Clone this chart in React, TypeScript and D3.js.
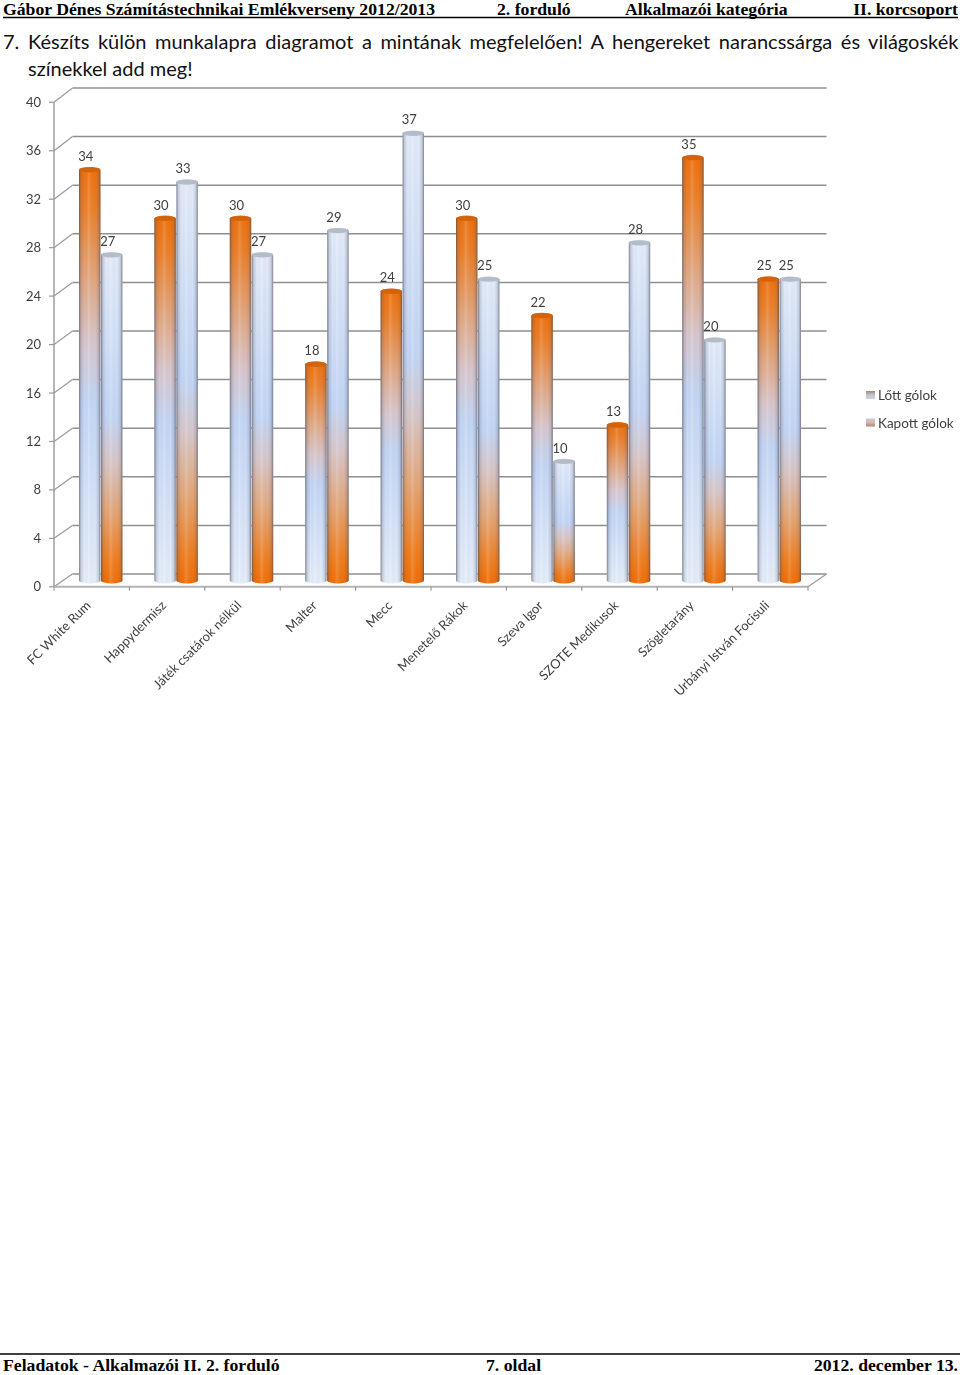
import React from "react";
import * as d3 from "d3";

const categories = ["FC White Rum","Happydermisz","Játék csatárok nélkül","Malter","Mecc","Menetelő Rákok","Szeva Igor","SZOTE Medikusok","Szögletarány","Urbányi István Focisuli"];
const lott = [34,30,30,18,24,30,22,13,35,25];
const kapott = [27,33,27,29,37,25,10,28,20,25];
const seriesNames = ["Lőtt gólok","Kapott gólok"];
const yTicks = [0,4,8,12,16,20,24,28,32,36,40];

const yFront = d3.scaleLinear().domain([0,40]).range([586.8,102.3]);
const yBack = d3.scaleLinear().domain([0,40]).range([574,88]);
const yBar = d3.scaleLinear().domain([0,40]).range([583,97]);
const xFront = d3.scaleBand<string>().domain(categories).range([54,808]);
const xBar = d3.scaleBand<string>().domain(categories).range([63,817]);
const xSeries = d3.scaleBand<string>().domain(seriesNames).range([-22,22]);

const ink = "#404040";
const chartFont = "Lato, 'Open Sans', sans-serif";

function cyl(x:number,w:number,top:number,base:number){
  const rx=w/2, ry=3;
  return `M${x},${top} L${x},${base} A${rx},${ry} 0 0 0 ${x+w},${base} L${x+w},${top} A${rx},${ry} 0 0 0 ${x},${top} Z`;
}

function Bars({values,name,grad,cap}:{values:number[],name:string,grad:string,cap:string}){
  const w = xSeries.bandwidth();
  return <g>{categories.map((c,i)=>{
    const x = xBar(c)! + xBar.bandwidth()/2 + xSeries(name)!;
    const top = yBar(values[i]);
    const base = yBar(0)-2.5;
    const d = cyl(x+0.3,w-0.6,top,base);
    return <g key={c}>
      <path d={d} fill={`url(#${grad})`}/>
      <path d={d} fill="url(#shade)"/>
      <ellipse cx={x+w/2} cy={top} rx={w/2-0.3} ry={2.6} fill={cap}/>
      <text x={x+w/2-4} y={top-9} textAnchor="middle" fontSize={13} fill={ink} fontFamily={chartFont}>{values[i]}</text>
    </g>;
  })}</g>;
}

export default function App(){
  const [x0,x1] = xFront.range();
  const dx = 18.5;
  return <svg width={960} height={1375} viewBox="0 0 960 1375" style={{position:"absolute",left:0,top:0,display:"block",background:"#fff"}}>
    <defs>
      <linearGradient id="orangeV" x1="0" y1="0" x2="0" y2="1">
        <stop offset="0" stopColor="#f06e08"/>
        <stop offset="0.1" stopColor="#ec7e26"/>
        <stop offset="0.27" stopColor="#e2a67e"/>
        <stop offset="0.42" stopColor="#d8c6cc"/>
        <stop offset="0.56" stopColor="#c2d6f6"/>
        <stop offset="1" stopColor="#e6eefb"/>
      </linearGradient>
      <linearGradient id="blueV" x1="0" y1="0" x2="0" y2="1">
        <stop offset="0" stopColor="#e4ecfa"/>
        <stop offset="0.5" stopColor="#c2d6f6"/>
        <stop offset="0.63" stopColor="#d8c6c8"/>
        <stop offset="0.78" stopColor="#e4a676"/>
        <stop offset="0.93" stopColor="#f07c1c"/>
        <stop offset="1" stopColor="#f26c02"/>
      </linearGradient>
      <linearGradient id="shade" x1="0" y1="0" x2="1" y2="0">
        <stop offset="0" stopColor="#3a3a48" stopOpacity="0.6"/>
        <stop offset="0.1" stopColor="#5a5a68" stopOpacity="0.2"/>
        <stop offset="0.25" stopColor="#5a5a68" stopOpacity="0"/>
        <stop offset="0.45" stopColor="#ffffff" stopOpacity="0.16"/>
        <stop offset="0.75" stopColor="#5a5a68" stopOpacity="0"/>
        <stop offset="0.9" stopColor="#5a5a68" stopOpacity="0.2"/>
        <stop offset="1" stopColor="#3a3a48" stopOpacity="0.6"/>
      </linearGradient>
      <linearGradient id="legA" x1="0" y1="0" x2="0" y2="1">
        <stop offset="0" stopColor="#a08a78"/><stop offset="0.5" stopColor="#c8c4c4"/><stop offset="1" stopColor="#c4d4ee"/>
      </linearGradient>
      <linearGradient id="legB" x1="0" y1="0" x2="0" y2="1">
        <stop offset="0" stopColor="#c8ccd8"/><stop offset="0.5" stopColor="#d4b8a8"/><stop offset="1" stopColor="#b08870"/>
      </linearGradient>
      <filter id="soft" x="-5%" y="-5%" width="110%" height="110%"><feGaussianBlur stdDeviation="0.5"/></filter>
    </defs>

    <g fontFamily="'Liberation Serif', serif" fontWeight="bold" fontSize={17.7} fill="#000">
      <text x={3} y={15}>Gábor Dénes Számítástechnikai Emlékverseny 2012/2013</text>
      <text x={497} y={15}>2. forduló</text>
      <text x={625} y={15}>Alkalmazói kategória</text>
      <text x={958} y={15} textAnchor="end">II. korcsoport</text>
    </g>
    <line x1={3} x2={958} y1={17.5} y2={17.5} stroke="#000" strokeWidth={1.5}/>

    <g fontFamily={chartFont} fontSize={20} fill="#111">
      <text x={3} y={49}>7.</text>
      <text x={28} y={49} wordSpacing={3.4}>Készíts külön munkalapra diagramot a mintának megfelelően! A hengereket narancssárga és világoskék</text>
      <text x={28} y={76}>színekkel add meg!</text>
    </g>

    <g filter="url(#soft)">
      {yTicks.map(t=><g key={t}>
        <line x1={x0+dx} x2={x1+dx} y1={yBack(t)} y2={yBack(t)} stroke="#8f8f8f" strokeWidth={1.5}/>
        <line x1={x0} x2={x0+dx} y1={yFront(t)} y2={yBack(t)} stroke="#999" strokeWidth={1.2}/>
        <line x1={x0-5} x2={x0} y1={yFront(t)} y2={yFront(t)} stroke="#999" strokeWidth={1.2}/>
        <text x={41} y={yFront(t)+4.5} textAnchor="end" fontSize={13} fill={ink} fontFamily={chartFont}>{t}</text>
      </g>)}
      <line x1={x0} x2={x0} y1={yFront(40)} y2={yFront(0)} stroke="#999" strokeWidth={1.4}/>
      <line x1={x0} x2={x1} y1={yFront(0)} y2={yFront(0)} stroke="#b4b4b4" strokeWidth={2}/>
      <line x1={x1} x2={x1+dx} y1={yFront(0)} y2={yBack(0)} stroke="#999" strokeWidth={1.2}/>
      {[...categories.map(c=>xFront(c)!),x1].map((x,i)=><line key={i} x1={x} x2={x} y1={yFront(0)} y2={yFront(0)+4} stroke="#888" strokeWidth={1}/>)}

      <Bars values={kapott} name={seriesNames[1]} grad="blueV" cap="#b4bcc8"/>
      <Bars values={lott} name={seriesNames[0]} grad="orangeV" cap="#d2640e"/>

      {categories.map(c=>{
        const x = xFront(c)! + xFront.bandwidth()/2 - 2.5;
        return <text key={c} transform={`translate(${x},604) rotate(-45)`} textAnchor="end" dominantBaseline="middle" fontSize={13} fill={ink} fontFamily={chartFont}>{c}</text>;
      })}

      {seriesNames.map((n,i)=><g key={n}>
        <rect x={866} y={391+i*27.5} width={9} height={8} fill={`url(#${i?"legB":"legA"})`}/>
        <text x={878} y={400+i*27.5} fontSize={13.5} fill={ink} fontFamily={chartFont}>{n}</text>
      </g>)}
    </g>

    <line x1={0} x2={960} y1={1354} y2={1354} stroke="#000" strokeWidth={1.3}/>
    <g fontFamily="'Liberation Serif', serif" fontWeight="bold" fontSize={17.7} fill="#000">
      <text x={3} y={1371}>Feladatok - Alkalmazói II. 2. forduló</text>
      <text x={486} y={1371}>7. oldal</text>
      <text x={958} y={1371} textAnchor="end">2012. december 13.</text>
    </g>
  </svg>;
}
